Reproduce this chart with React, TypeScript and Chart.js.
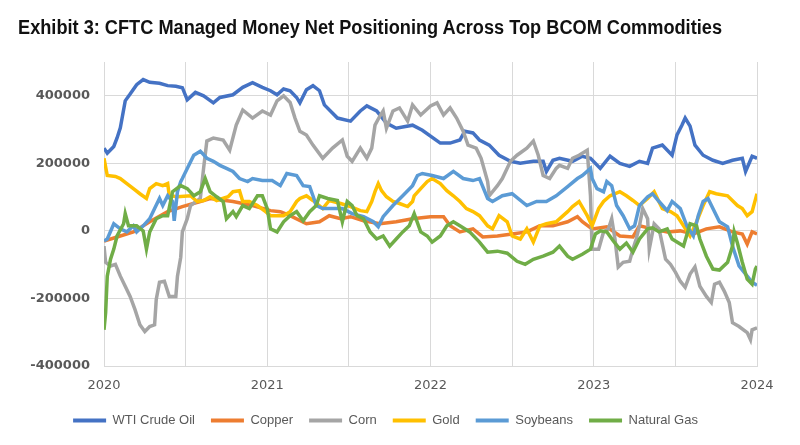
import React, { useEffect, useLayoutEffect, useRef } from "react";
import { Chart, registerables } from "chart.js";

Chart.register(...registerables);

const TITLE = "Exhibit 3: CFTC Managed Money Net Positioning Across Top BCOM Commodities";
const X_MIN = 2020;
const X_MAX = 2024;
const Y_MIN = -400000;
const Y_MAX = 500000;
const Y_TICKS = [-400000, -200000, 0, 200000, 400000];
const X_TICK_LABELS = ["2020", "2021", "2022", "2023", "2024"];

const SERIES_NAMES = ["WTI Crude Oil", "Copper", "Corn", "Gold", "Soybeans", "Natural Gas"];
const SERIES_COLORS = ["#4472C4", "#ED7D31", "#A5A5A5", "#FFC000", "#5B9BD5", "#70AD47"];

const wtiYears = [2020.00,2020.02,2020.06,2020.08,2020.10,2020.13,2020.16,2020.20,2020.24,2020.28,
  2020.34,2020.39,2020.44,2020.48,2020.51,2020.56,2020.61,2020.67,2020.71,2020.79,
  2020.85,2020.91,2020.97,2021.02,2021.06,2021.10,2021.14,2021.18,2021.20,2021.24,
  2021.28,2021.32,2021.35,2021.43,2021.51,2021.57,2021.61,2021.67,2021.73,2021.79,
  2021.89,2021.95,2022.06,2022.12,2022.18,2022.21,2022.26,2022.30,2022.36,2022.42,
  2022.49,2022.55,2022.63,2022.69,2022.71,2022.75,2022.79,2022.87,2022.93,2022.98,
  2023.04,2023.10,2023.16,2023.22,2023.28,2023.33,2023.36,2023.42,2023.48,2023.51,
  2023.54,2023.56,2023.59,2023.62,2023.67,2023.73,2023.79,2023.85,2023.91,2023.93,
  2023.97,2024.00];
const wtiValues = [245000,230000,250000,275000,305000,385000,405000,433000,448000,440000,
  437000,430000,428000,424000,388000,410000,400000,379000,395000,403000,
  425000,439000,425000,415000,403000,420000,415000,395000,379000,418000,
  430000,415000,373000,334000,325000,355000,370000,355000,319000,304000,
  313000,298000,260000,260000,269000,295000,290000,269000,254000,224000,
  206000,200000,206000,206000,176000,209000,215000,206000,221000,215000,
  185000,221000,200000,191000,206000,200000,245000,254000,224000,284000,
  313000,334000,310000,254000,224000,209000,200000,209000,215000,176000,
  221000,215000];

const copperYears = [2020.00,2020.08,2020.18,2020.28,2020.39,2020.48,2020.59,2020.65,2020.79,2020.91,
  2021.02,2021.08,2021.14,2021.24,2021.32,2021.38,2021.45,2021.51,2021.59,2021.69,
  2021.79,2021.89,2022.00,2022.08,2022.12,2022.18,2022.26,2022.32,2022.41,2022.50,
  2022.59,2022.67,2022.75,2022.84,2022.90,2022.93,2022.99,2023.08,2023.16,2023.24,
  2023.28,2023.36,2023.45,2023.53,2023.61,2023.69,2023.77,2023.85,2023.91,2023.94,
  2023.97,2024.00];
const copperValues = [-30000,-18000,-3000,27000,57000,72000,87000,96000,87000,75000,
  60000,57000,45000,21000,27000,45000,36000,42000,30000,21000,
  27000,36000,42000,42000,15000,-3000,6000,-18000,-15000,-9000,
  -3000,15000,15000,27000,42000,27000,6000,12000,-15000,-18000,
  15000,6000,-3000,0,-9000,6000,12000,-3000,-9000,-39000,
  -3000,-9000];

const cornYears = [2020.00,2020.01,2020.04,2020.07,2020.10,2020.13,2020.16,2020.19,2020.22,2020.25,
  2020.28,2020.31,2020.32,2020.34,2020.37,2020.40,2020.44,2020.45,2020.47,2020.48,
  2020.51,2020.53,2020.59,2020.61,2020.63,2020.67,2020.73,2020.77,2020.81,2020.85,
  2020.91,2020.97,2021.02,2021.06,2021.10,2021.14,2021.17,2021.20,2021.24,2021.28,
  2021.34,2021.40,2021.46,2021.49,2021.52,2021.57,2021.61,2021.64,2021.66,2021.69,
  2021.71,2021.73,2021.77,2021.81,2021.86,2021.89,2021.94,2022.00,2022.04,2022.08,
  2022.12,2022.16,2022.20,2022.23,2022.28,2022.31,2022.35,2022.36,2022.41,2022.44,
  2022.49,2022.53,2022.59,2022.63,2022.66,2022.69,2022.73,2022.77,2022.79,2022.84,
  2022.87,2022.91,2022.96,2022.98,2022.99,2023.03,2023.06,2023.09,2023.11,2023.13,
  2023.15,2023.18,2023.22,2023.24,2023.26,2023.28,2023.30,2023.33,2023.34,2023.37,
  2023.40,2023.44,2023.47,2023.50,2023.53,2023.56,2023.59,2023.62,2023.65,2023.69,
  2023.72,2023.74,2023.77,2023.80,2023.83,2023.85,2023.89,2023.94,2023.96,2023.97,
  2024.00];
const cornValues = [-45000,-93000,-104000,-99000,-134000,-164000,-194000,-233000,-278000,-298000,
  -283000,-278000,-203000,-152000,-149000,-194000,-194000,-134000,-78000,-3000,
  36000,75000,96000,185000,266000,275000,269000,239000,313000,358000,
  334000,355000,343000,385000,400000,380000,334000,295000,284000,254000,
  215000,245000,269000,221000,206000,245000,215000,245000,313000,340000,
  355000,304000,355000,364000,325000,373000,343000,370000,379000,343000,
  364000,334000,295000,254000,245000,215000,146000,104000,134000,155000,
  206000,224000,245000,266000,224000,164000,155000,185000,194000,185000,
  215000,224000,239000,104000,-54000,-54000,-3000,6000,36000,-24000,
  -107000,-93000,-90000,-54000,-24000,15000,66000,36000,-54000,21000,
  6000,-84000,-99000,-122000,-149000,-167000,-128000,-107000,-164000,-194000,
  -212000,-158000,-152000,-179000,-212000,-272000,-283000,-301000,-322000,-293000,
  -287000];

const goldYears = [2020.00,2020.02,2020.07,2020.10,2020.14,2020.18,2020.22,2020.26,2020.28,2020.32,
  2020.36,2020.39,2020.40,2020.45,2020.53,2020.57,2020.61,2020.65,2020.69,2020.76,
  2020.79,2020.83,2020.85,2020.89,2020.94,2020.99,2021.02,2021.10,2021.14,2021.18,
  2021.20,2021.24,2021.28,2021.34,2021.38,2021.45,2021.51,2021.57,2021.61,2021.64,
  2021.66,2021.68,2021.70,2021.73,2021.77,2021.81,2021.86,2021.89,2021.90,2021.94,
  2021.98,2022.01,2022.06,2022.10,2022.14,2022.18,2022.22,2022.26,2022.30,2022.35,
  2022.38,2022.42,2022.47,2022.50,2022.55,2022.59,2022.63,2022.67,2022.71,2022.77,
  2022.84,2022.87,2022.91,2022.96,2022.99,2023.03,2023.06,2023.10,2023.16,2023.20,
  2023.24,2023.28,2023.33,2023.37,2023.42,2023.47,2023.51,2023.55,2023.59,2023.63,
  2023.67,2023.71,2023.75,2023.82,2023.88,2023.91,2023.94,2023.97,2024.00];
const goldValues = [215000,164000,161000,155000,140000,125000,110000,96000,125000,140000,
  134000,140000,104000,101000,104000,87000,90000,101000,90000,101000,
  116000,119000,87000,87000,75000,57000,45000,45000,57000,87000,
  96000,104000,90000,66000,90000,81000,72000,60000,57000,87000,
  116000,140000,119000,101000,87000,81000,72000,87000,104000,125000,
  146000,155000,140000,119000,104000,87000,66000,57000,45000,15000,
  6000,45000,27000,-15000,-24000,6000,-33000,15000,21000,27000,
  57000,72000,87000,45000,15000,66000,87000,104000,116000,104000,
  90000,75000,96000,116000,66000,57000,45000,15000,-15000,27000,
  75000,116000,110000,104000,75000,66000,45000,57000,110000];

const soyYears = [2020.00,2020.02,2020.06,2020.10,2020.14,2020.18,2020.20,2020.24,2020.28,2020.31,
  2020.34,2020.36,2020.39,2020.42,2020.43,2020.45,2020.47,2020.48,2020.51,2020.55,
  2020.59,2020.63,2020.67,2020.71,2020.75,2020.79,2020.83,2020.88,2020.91,2020.97,
  2021.03,2021.08,2021.12,2021.18,2021.22,2021.26,2021.28,2021.30,2021.34,2021.46,
  2021.52,2021.59,2021.65,2021.68,2021.71,2021.77,2021.83,2021.89,2021.92,2021.95,
  2022.01,2022.08,2022.14,2022.20,2022.26,2022.30,2022.35,2022.38,2022.44,2022.50,
  2022.59,2022.65,2022.71,2022.77,2022.84,2022.90,2022.93,2022.98,2022.99,2023.02,
  2023.06,2023.08,2023.11,2023.14,2023.18,2023.22,2023.25,2023.28,2023.33,2023.36,
  2023.40,2023.45,2023.48,2023.53,2023.57,2023.61,2023.64,2023.67,2023.70,2023.73,
  2023.77,2023.82,2023.85,2023.89,2023.94,2023.97,2024.00];
const soyValues = [-30000,-24000,21000,6000,-3000,15000,-3000,15000,36000,66000,
  96000,75000,104000,87000,30000,116000,146000,155000,185000,224000,
  236000,215000,206000,194000,185000,176000,155000,146000,155000,149000,
  149000,134000,170000,164000,134000,131000,104000,75000,66000,66000,
  51000,42000,27000,12000,42000,75000,104000,134000,164000,170000,
  164000,155000,176000,155000,149000,155000,96000,87000,104000,110000,
  75000,87000,87000,104000,131000,155000,164000,185000,155000,125000,
  116000,146000,134000,75000,45000,6000,15000,75000,101000,110000,
  87000,60000,87000,66000,15000,-15000,45000,87000,96000,66000,
  27000,12000,-45000,-104000,-134000,-152000,-161000];

const gasYears = [2020.00,2020.01,2020.02,2020.04,2020.06,2020.08,2020.12,2020.13,2020.15,2020.20,
  2020.24,2020.26,2020.28,2020.32,2020.36,2020.39,2020.42,2020.47,2020.51,2020.55,
  2020.59,2020.62,2020.65,2020.69,2020.73,2020.75,2020.79,2020.81,2020.85,2020.89,
  2020.94,2020.97,2021.00,2021.02,2021.06,2021.10,2021.14,2021.18,2021.22,2021.26,
  2021.30,2021.32,2021.37,2021.43,2021.46,2021.49,2021.52,2021.55,2021.59,2021.63,
  2021.67,2021.71,2021.75,2021.79,2021.83,2021.87,2021.90,2021.94,2021.98,2022.01,
  2022.06,2022.10,2022.14,2022.18,2022.24,2022.30,2022.35,2022.41,2022.47,2022.53,
  2022.58,2022.63,2022.69,2022.75,2022.79,2022.84,2022.87,2022.93,2022.98,2023.01,
  2023.04,2023.08,2023.12,2023.16,2023.20,2023.24,2023.28,2023.33,2023.36,2023.40,
  2023.45,2023.48,2023.55,2023.59,2023.63,2023.65,2023.69,2023.73,2023.77,2023.82,
  2023.85,2023.86,2023.88,2023.91,2023.94,2023.97,2023.99,2024.00];
const gasValues = [-293000,-242000,-134000,-84000,-54000,-15000,21000,51000,15000,15000,
  0,-54000,-3000,36000,45000,45000,116000,134000,125000,104000,
  116000,155000,116000,101000,87000,36000,57000,42000,75000,66000,
  104000,104000,66000,6000,-3000,27000,45000,57000,30000,57000,
  75000,104000,96000,90000,27000,87000,75000,45000,36000,-3000,
  -24000,-15000,-45000,-24000,-3000,15000,51000,-3000,-15000,-33000,
  -15000,15000,27000,15000,-3000,-33000,-63000,-60000,-66000,-90000,
  -99000,-84000,-75000,-63000,-45000,-75000,-84000,-69000,-54000,-9000,
  0,-3000,-30000,-54000,-36000,-63000,-24000,6000,9000,-3000,
  6000,-24000,-45000,21000,15000,-24000,-75000,-113000,-116000,-93000,
  -45000,-3000,-36000,-93000,-143000,-158000,-113000,-104000];

const SERIES_YEARS = [wtiYears, copperYears, cornYears, goldYears, soyYears, gasYears];
const SERIES_VALUES = [wtiValues, copperValues, cornValues, goldValues, soyValues, gasValues];

function toPoints(xs: number[], ys: number[]) {
  const n = Math.min(xs.length, ys.length);
  const pts: { x: number; y: number }[] = [];
  for (let i = 0; i < n; i++) pts.push({ x: xs[i], y: ys[i] });
  return pts;
}

const GRID = "#d9d9d9";
const TEXT = "#595959";
const TITLE_WIDTH = 704;

export default function App() {
  const canvasRef = useRef<HTMLCanvasElement | null>(null);
  const titleRef = useRef<HTMLSpanElement | null>(null);

  useLayoutEffect(() => {
    const el = titleRef.current;
    if (!el) return;
    const w = el.getBoundingClientRect().width;
    if (w > 0) el.style.transform = `scaleX(${TITLE_WIDTH / w})`;
  }, []);

  useEffect(() => {
    if (!canvasRef.current) return;
    const datasets = SERIES_NAMES.map((name, i) => ({
      label: name,
      data: toPoints(SERIES_YEARS[i], SERIES_VALUES[i]),
      borderColor: SERIES_COLORS[i],
      backgroundColor: SERIES_COLORS[i],
      borderWidth: 3.5,
      pointRadius: 0,
      pointHoverRadius: 0,
      tension: 0,
      fill: false,
      order: SERIES_NAMES.length - i,
    }));

    const chart = new Chart(canvasRef.current, {
      type: "line",
      data: { datasets },
      options: {
        animation: false,
        responsive: false,
        maintainAspectRatio: false,
        layout: { padding: { top: 62, left: 14, right: 43, bottom: 8 } },
        scales: {
          x: {
            type: "linear",
            min: X_MIN,
            max: X_MAX,
            afterBuildTicks: (scale: any) => {
              const t: { value: number }[] = [];
              for (let v = X_MIN; v <= X_MAX + 1e-9; v += 0.5) t.push({ value: v });
              scale.ticks = t;
            },
            afterFit: (scale: any) => {
              scale.height = 32;
            },
            ticks: {
              autoSkip: false,
              maxRotation: 0,
              padding: 12,
              color: TEXT,
              font: { family: "'DejaVu Sans', sans-serif", size: 13 },
              callback: (v: any) => {
                const idx = X_TICK_LABELS.indexOf(String(v));
                return idx >= 0 ? X_TICK_LABELS[idx] : "";
              },
            },
            grid: { color: GRID, lineWidth: 1, drawTicks: false },
            border: { display: true, color: GRID, width: 1 },
          },
          y: {
            type: "linear",
            min: Y_MIN,
            max: Y_MAX,
            afterBuildTicks: (scale: any) => {
              scale.ticks = Y_TICKS.map((v) => ({ value: v }));
            },
            afterFit: (scale: any) => {
              scale.width = 90;
            },
            ticks: {
              padding: 14,
              color: TEXT,
              font: { family: "'DejaVu Sans', sans-serif", size: 13, weight: "bold" },
              callback: (v: any) => String(v),
            },
            grid: { color: GRID, lineWidth: 1, drawTicks: false },
            border: { display: false },
          },
        },
        plugins: {
          title: { display: false },
          tooltip: { enabled: false },
          legend: {
            position: "bottom",
            labels: {
              boxWidth: 33,
              boxHeight: 4,
              padding: 16,
              color: TEXT,
              font: { family: "'Liberation Sans', Arial, sans-serif", size: 13 },
              sort: (a: any, b: any) => a.datasetIndex - b.datasetIndex,
              generateLabels: (c: any) => {
                const base = (Chart as any).defaults.plugins.legend.labels.generateLabels(c);
                return base.map((it: any) => ({ ...it, lineWidth: 0, strokeStyle: it.fillStyle }));
              },
            },
          },
        },
      },
    });
    return () => chart.destroy();
  }, []);

  return (
    <div style={{ position: "fixed", left: 0, top: 0, width: 800, height: 445, background: "#fff" }}>
      <span
        ref={titleRef}
        style={{
          position: "absolute",
          left: 18,
          top: 17,
          display: "inline-block",
          transformOrigin: "0 0",
          fontFamily: "'Liberation Sans', Arial, sans-serif",
          fontWeight: "bold",
          fontSize: 20,
          lineHeight: "20px",
          color: "#111",
          whiteSpace: "nowrap",
        }}
      >
        {TITLE}
      </span>
      <canvas ref={canvasRef} width={800} height={445} style={{ display: "block" }} />
    </div>
  );
}
